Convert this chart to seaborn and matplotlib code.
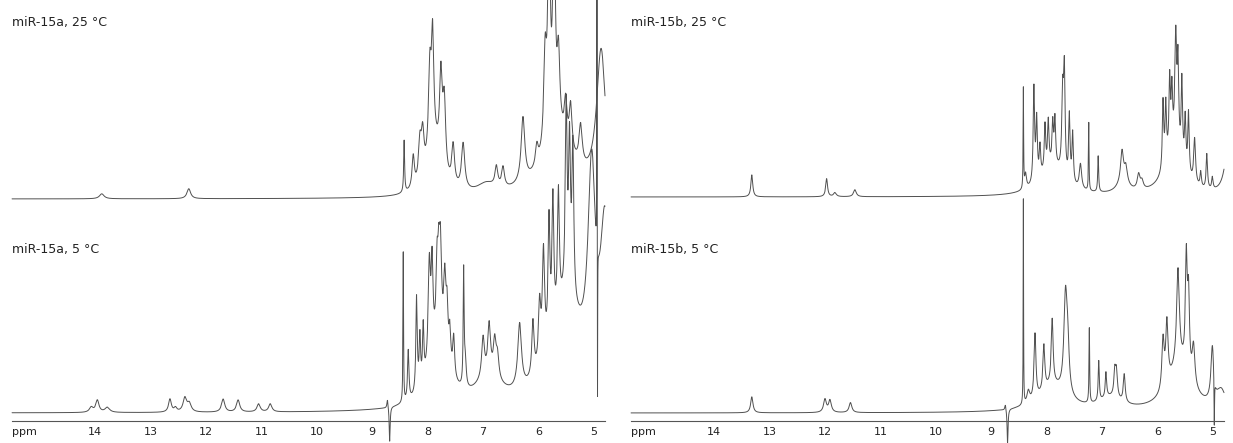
import numpy as np
import pandas as pd
import matplotlib.pyplot as plt
import seaborn as sns

# -------------------------------------------------------------------
# peak lists
# shift (ppm), height (px above the trace baseline), half width (ppm)
# -------------------------------------------------------------------
a25_shift = [13.88, 12.31, 8.424, 8.26, 8.14, 8.09, 7.96, 7.91, 7.76, 7.70, 7.88,
             7.54, 7.36, 6.94, 6.76, 6.64, 6.28, 6.03, 5.88, 5.81, 5.72, 5.64,
             5.51, 5.42, 5.24, 5.65, 4.87]
a25_height = [5, 10, 52, 32, 38, 42, 85, 105, 88, 68, 45,
              40, 46, 10, 20, 20, 65, 20, 90, 230, 230, 75,
              40, 45, 40, 55, 140]
a25_hw = [0.05, 0.04, 0.01, 0.025, 0.03, 0.03, 0.03, 0.025, 0.03, 0.03, 0.15,
          0.03, 0.035, 0.2, 0.03, 0.03, 0.04, 0.03, 0.03, 0.025, 0.025, 0.03,
          0.03, 0.03, 0.035, 0.35, 0.1]

a5_shift = [14.07, 13.96, 13.78, 12.65, 12.55, 12.38, 12.30, 11.69, 11.42, 11.05, 10.84,
            8.725, 8.685, 8.44, 8.35, 8.20, 8.14, 8.08,
            7.97, 7.92, 7.83, 7.80, 7.77, 7.69, 7.65, 7.60, 7.53, 7.80,
            7.35, 7.32, 7.00, 6.89, 6.79, 6.74, 6.90,
            6.34, 6.10, 5.98, 5.91, 5.81, 5.74, 5.64, 5.50, 5.44, 5.38, 5.50,
            5.04, 4.945, 4.935, 4.80]
a5_height = [5, 12, 5, 13, 4, 14, 8, 13, 12, 8, 8,
             9, -35, 150, 50, 95, 50, 55,
             100, 85, 65, 55, 85, 70, 45, 35, 40, 65,
             115, 25, 40, 50, 35, 22, 25,
             65, 55, 60, 105, 120, 130, 120, 185, 145, 150, 100,
             200, 300, -170, 165]
a5_hw = [0.04, 0.035, 0.05, 0.03, 0.03, 0.04, 0.04, 0.035, 0.035, 0.035, 0.035,
         0.012, 0.01, 0.006, 0.015, 0.015, 0.015, 0.015,
         0.025, 0.02, 0.02, 0.02, 0.025, 0.025, 0.02, 0.02, 0.02, 0.2,
         0.01, 0.02, 0.03, 0.03, 0.03, 0.03, 0.3,
         0.04, 0.025, 0.025, 0.025, 0.02, 0.02, 0.02, 0.02, 0.02, 0.02, 0.35,
         0.08, 0.003, 0.003, 0.1]

b25_shift = [13.32, 11.97, 11.82, 11.46,
             8.42, 8.38, 8.23, 8.18, 8.12, 8.03, 7.97, 7.89, 7.85, 7.71, 7.68, 7.59, 7.53, 7.90,
             7.39, 7.24, 7.07, 6.64, 6.57, 6.62, 6.34, 6.28,
             5.90, 5.85, 5.78, 5.74, 5.67, 5.63, 5.56, 5.50, 5.44, 5.70,
             5.33, 5.22, 5.11, 5.01, 4.72]
b25_height = [22, 18, 4, 7,
              100, 15, 95, 60, 30, 45, 45, 40, 45, 80, 95, 65, 50, 30,
              25, 68, 36, 30, 15, 12, 15, 8,
              68, 58, 72, 55, 110, 82, 80, 50, 62, 45,
              45, 15, 35, 12, 50]
b25_hw = [0.02, 0.02, 0.03, 0.03,
          0.005, 0.02, 0.015, 0.015, 0.015, 0.015, 0.015, 0.015, 0.015, 0.02, 0.015, 0.015, 0.015, 0.25,
          0.025, 0.006, 0.01, 0.03, 0.03, 0.12, 0.03, 0.03,
          0.015, 0.015, 0.015, 0.015, 0.02, 0.015, 0.015, 0.015, 0.015, 0.2,
          0.02, 0.015, 0.015, 0.015, 0.08]

b5_shift = [13.32, 12.00, 11.91, 11.54,
            8.745, 8.705, 8.42, 8.33, 8.21, 8.05, 7.90, 7.66, 7.62, 7.90,
            7.23, 7.06, 6.93, 6.77, 6.74, 6.60, 6.85,
            5.90, 5.83, 5.63, 5.48, 5.44, 5.35, 5.60,
            5.01, 4.975, 4.85]
b5_height = [16, 13, 12, 10,
             6, -35, 205, 12, 65, 45, 65, 95, 40, 25,
             75, 40, 25, 25, 25, 28, 12,
             50, 62, 95, 110, 75, 40, 45,
             55, -50, 18]
b5_hw = [0.025, 0.03, 0.03, 0.03,
         0.012, 0.01, 0.004, 0.03, 0.02, 0.02, 0.02, 0.035, 0.03, 0.3,
         0.007, 0.012, 0.015, 0.02, 0.02, 0.02, 0.25,
         0.025, 0.025, 0.03, 0.02, 0.02, 0.03, 0.25,
         0.03, 0.005, 0.1]

panel_titles = [("miR-15a, 25 °C", "miR-15a, 5 °C"), ("miR-15b, 25 °C", "miR-15b, 5 °C")]
tick_values = [5, 6, 7, 8, 9, 10, 11, 12, 13, 14, 15]
tick_labels = ["5", "6", "7", "8", "9", "10", "11", "12", "13", "14", ""]


def build_trace(ppm, shifts, heights, widths):
    """Sum of Lorentzian lines for one spectrum."""
    y = np.zeros_like(ppm)
    for c, h, w in zip(shifts, heights, widths):
        y += h * w ** 2 / ((ppm - c) ** 2 + w ** 2)
    return y


sns.set_style("white")
plt.rcParams['font.family'] = ['DejaVu Sans']

ppm = np.arange(4.80, 15.50, 0.001)
line_col = "#505050"

fig = plt.figure(figsize=(12.33, 4.43), dpi=100)
ax_a = fig.add_axes([12 / 1233, 22 / 443, 593 / 1233, 421 / 443])
ax_b = fig.add_axes([631 / 1233, 22 / 443, 593 / 1233, 421 / 443])

panels = [
    (ax_a, (a25_shift, a25_height, a25_hw, 222), (a5_shift, a5_height, a5_hw, 8)),
    (ax_b, (b25_shift, b25_height, b25_hw, 224), (b5_shift, b5_height, b5_hw, 8)),
]

for (ax, top, bottom), titles in zip(panels, panel_titles):
    for shifts, heights, widths, offset in (top, bottom):
        df = pd.DataFrame({"ppm": ppm,
                           "intensity": build_trace(ppm, shifts, heights, widths) + offset})
        sns.lineplot(data=df, x="ppm", y="intensity", ax=ax, color=line_col,
                     lw=0.7, estimator=None, sort=False)
        ax.lines[-1].set_clip_on(False)

    ax.set_xlim(15.5, 4.8)
    ax.set_ylim(0, 421)
    ax.set_xlabel("")
    ax.set_ylabel("")
    ax.set_yticks([])
    for side in ["top", "left", "right"]:
        ax.spines[side].set_visible(False)
    ax.spines["bottom"].set_color("#555555")
    ax.spines["bottom"].set_linewidth(0.8)
    ax.set_xticks(tick_values)
    ax.set_xticklabels(tick_labels)
    ax.set_xticks(np.arange(5.5, 15.6, 1.0), minor=True)
    ax.tick_params(axis="x", which="major", direction="inout", length=5, width=0.8,
                   color="#555555", labelsize=8, pad=2, labelcolor="#222222")
    ax.tick_params(axis="x", which="minor", direction="out", length=2.5, width=0.8,
                   color="#555555")
    ax.patch.set_alpha(0)

    ax.text(15.5, -0.027, "ppm", transform=ax.get_xaxis_transform(),
            ha="left", va="center", fontsize=8, color="#222222")
    ax.text(0.0, (421 - 26) / 421, titles[0], transform=ax.transAxes,
            ha="left", va="baseline", fontsize=9, color="#222222")
    ax.text(0.0, (421 - 253) / 421, titles[1], transform=ax.transAxes,
            ha="left", va="baseline", fontsize=9, color="#222222")

fig.savefig("out.png", dpi=100)
